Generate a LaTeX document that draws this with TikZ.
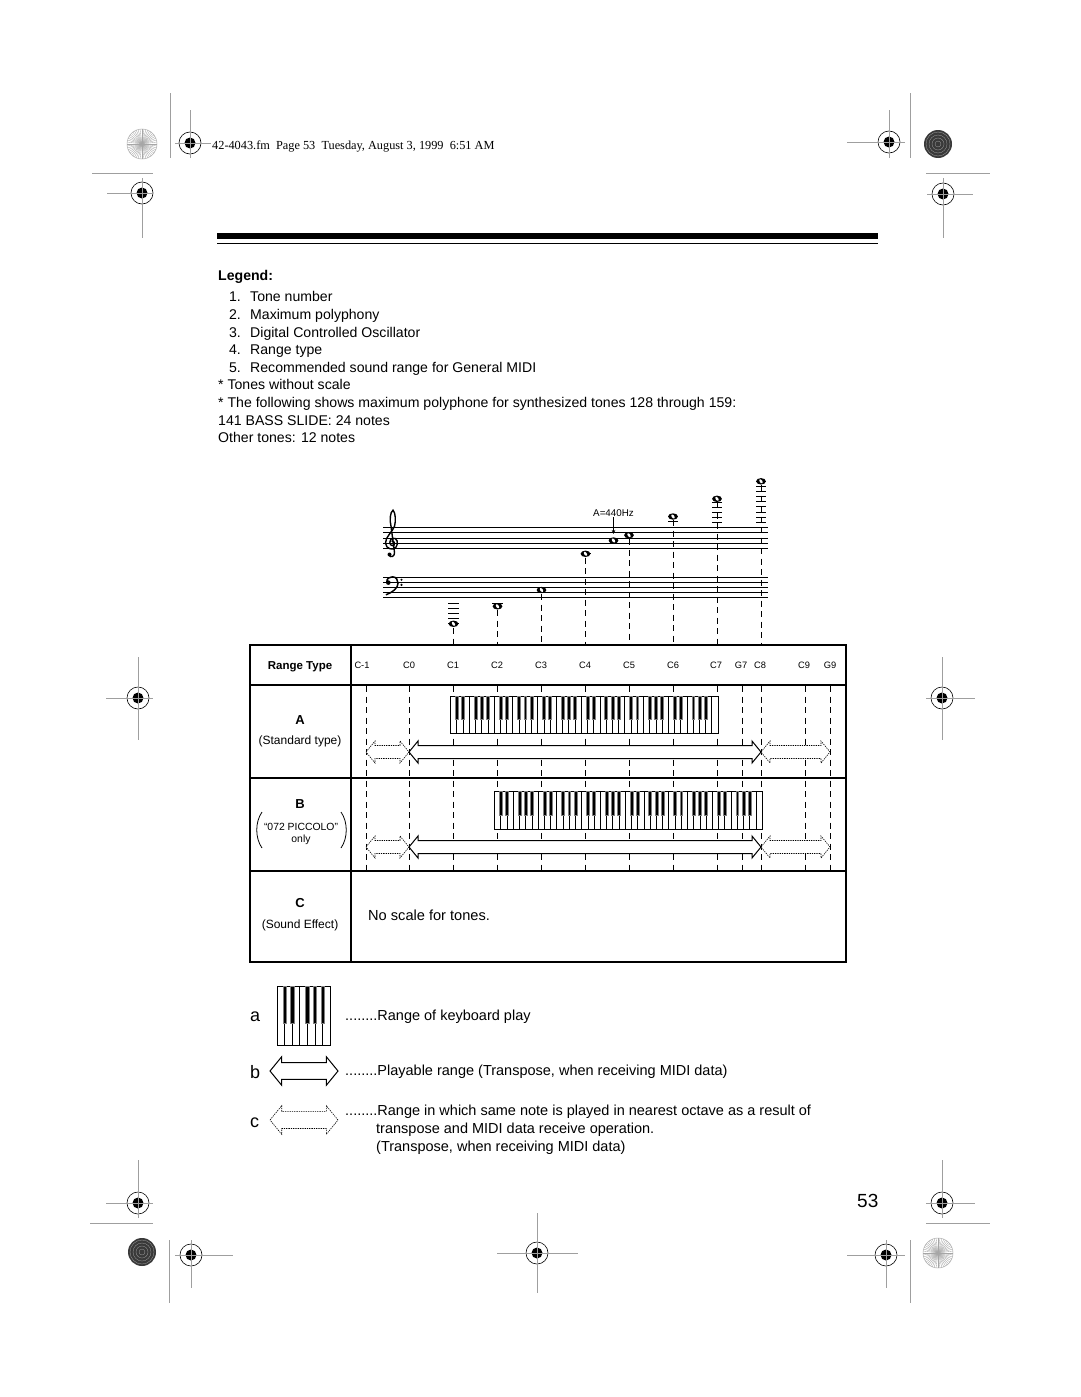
\documentclass[tikz,border=0pt]{standalone}
\usepackage{fontspec}
\setmainfont{Liberation Sans}
\newfontfamily\headfont{Liberation Serif}
\usetikzlibrary{arrows.meta}

\tikzset{
  regline/.style={gray!75, line width=0.8pt},
  guide/.style={dash pattern=on 6pt off 4.5pt, line width=0.6pt},
  staffline/.style={line width=0.8pt},
  ledger/.style={line width=0.7pt},
  txt/.style={anchor=base west, inner sep=0pt, font=\fontsize{14.1}{16}\selectfont},
  keytxt/.style={anchor=base west, inner sep=0pt, font=\fontsize{14.5}{16}\selectfont},
  collab/.style={anchor=base, inner sep=0pt, font=\fontsize{9.3}{10}\selectfont},
  typelab/.style={anchor=base, inner sep=0pt, font=\fontsize{12}{14}\selectfont},
  typebig/.style={anchor=base, inner sep=0pt, font=\bfseries\fontsize{13}{15}\selectfont},
  keyletter/.style={anchor=base west, inner sep=0pt, font=\fontsize{18}{20}\selectfont},
  fullarrow/.style={draw, fill=white, line width=1pt, line join=miter},
  partarrow/.style={draw, fill=white, line width=0.6pt, dash pattern=on 1.3pt off 1pt},
  whitekey/.style={draw, fill=white, line width=0.5pt},
  blackkey/.style={fill=black, draw=gray, line width=0.3pt},
}

% crop / registration marks
\newcommand{\regmark}[6]{%
  \draw[line width=0.6pt] (#1,#2) circle (11pt);
  \fill (#1,#2) circle (5.5pt);
  \draw[regline] (#3,#2) -- (#4,#2);
  \draw[regline] (#1,#5) -- (#1,#6);
}
\newcommand{\starburst}[2]{%
  \draw[gray!60, line width=0.5pt] (#1,#2) circle (15pt);
  \foreach \a in {0,7.5,...,352.5} \draw[gray!70, line width=0.35pt] (#1,#2) -- ++(\a:15);
}
\newcommand{\darkdisc}[2]{%
  \fill[gray!45!black] (#1,#2) circle (14pt);
  \foreach \r in {3,6,9,12} \draw[gray!75, line width=0.3pt] (#1,#2) circle (\r pt);
}
% whole note
\newcommand{\wnote}[2]{%
  \fill (#1,#2) ellipse [x radius=4.9pt, y radius=3.2pt];
  \fill[white, rotate around={35:(#1,#2)}] (#1,#2) ellipse [x radius=1.3pt, y radius=2.3pt];
}
% keyboard: x, y, white keys, key width, height
\newcommand{\keyboard}[5]{%
  \foreach \k in {1,...,#3} \draw[whitekey] ({#1+(\k-1)*#4},#2) rectangle ++(#4,#5);
  \foreach \k in {1,...,#3} {
    \pgfmathtruncatemacro\pos{mod(\k,7)}
    \ifnum\pos=3 \else\ifnum\pos=0 \else
      \ifnum\k<#3 \fill[blackkey] ({#1+\k*#4-0.23*#4},#2) rectangle ++(0.46*#4,0.63*#5);\fi
    \fi\fi
  }
}
% hollow double arrow: style, x1, x2, y, size
\newcommand{\rangearrow}[5]{%
  \path[#1] (#2,#4) -- ++(9*#5,-11*#5) -- ++(0,4.5*#5) -- (#3-9*#5,#4-6.5*#5)
    -- ++(0,-4.5*#5) -- (#3,#4) -- ++(-9*#5,11*#5) -- ++(0,-4.5*#5)
    -- (#2+9*#5,#4+6.5*#5) -- ++(0,4.5*#5) -- cycle;
}

\begin{document}
\begin{tikzpicture}[x=1pt, y=-1pt]
  \fill[white] (0,0) rectangle (1080,1397);
  \useasboundingbox (0,0) rectangle (1080,1397);

  % corner marks
  \starburst{142}{144}
  \draw[regline] (170,93) -- (170,158);
  \regmark{190}{143}{175}{211}{110}{158}
  \draw[regline] (92,173) -- (153,173);
  \regmark{142}{193}{107}{153}{178}{238}
  \regmark{889}{142}{847}{905}{110}{158}
  \draw[regline] (910,93) -- (910,158);
  \darkdisc{938}{144}
  \draw[regline] (926,173) -- (990,173);
  \regmark{943}{194}{927}{973}{178}{238}
  \regmark{138}{698}{106}{153}{657}{740}
  \regmark{942}{698}{926}{975}{657}{740}
  \regmark{138}{1203}{106}{153}{1160}{1218}
  \draw[regline] (90,1223) -- (153,1223);
  \darkdisc{142}{1252}
  \draw[regline] (169,1240) -- (169,1303);
  \regmark{191}{1255}{175}{233}{1240}{1288}
  \regmark{537}{1253}{497}{578}{1213}{1293}
  \regmark{942}{1203}{926}{975}{1160}{1218}
  \draw[regline] (926,1223) -- (990,1223);
  \starburst{938}{1253}
  \draw[regline] (910,1240) -- (910,1303);
  \regmark{886}{1255}{847}{905}{1240}{1288}

  \node[anchor=base west, inner sep=0pt, font=\headfont\fontsize{12.3}{14}\selectfont] (pghead) at (212,149) {42-4043.fm\ \ Page 53\ \ Tuesday, August 3, 1999\ \ 6:51 AM};

  % double rule
  \fill (217,233) rectangle (878,239);
  \draw[line width=1.5pt] (217,243.5) -- (878,243.5);

  % legend
  \node[txt, font=\bfseries\fontsize{14.1}{16}\selectfont] (legtitle) at (218,280) {Legend:};
  \node[txt, anchor=base east] (n1) at (241,301) {1.};
  \node[txt] (t1) at (250,301) {Tone number};
  \node[txt, anchor=base east] (n2) at (241,319) {2.};
  \node[txt] (t2) at (250,319) {Maximum polyphony};
  \node[txt, anchor=base east] (n3) at (241,337) {3.};
  \node[txt] (t3) at (250,337) {Digital Controlled Oscillator};
  \node[txt, anchor=base east] (n4) at (241,354) {4.};
  \node[txt] (t4) at (250,354) {Range type};
  \node[txt, anchor=base east] (n5) at (241,372) {5.};
  \node[txt] (t5) at (250,372) {Recommended sound range for General MIDI};
  \node[txt] (noscale) at (218,389) {* Tones without scale};
  \node[txt] (poly) at (218,407) {* The following shows maximum polyphone for synthesized tones 128 through 159:};
  \node[txt] (bass) at (218,425) {141 BASS SLIDE: 24 notes};
  \node[txt] (other) at (218,442) {Other tones: 12 notes};

  % staves
  \foreach \y in {527.3,532.6,537.9,543.2,548.5} \draw[staffline] (383,\y) -- (768,\y);
  \foreach \y in {577,582.2,587.4,592.6,597.8} \draw[staffline] (383,\y) -- (768,\y);
  % treble clef
  \begin{scope}[shift={(392,543.2)}, line width=1.4pt, line cap=round]
    \draw (0,-2) .. controls (3,-2.5) and (3.5,2.5) .. (0.5,2.5)
      .. controls (-3,2.5) and (-3,-4) .. (0.5,-5)
      .. controls (5,-6) and (7,0) .. (4,4)
      .. controls (1,7.5) and (-6,6) .. (-6.5,0)
      .. controls (-7,-6) and (1,-12) .. (2.5,-17)
      .. controls (4,-22) and (3.5,-31) .. (1,-33)
      .. controls (-2,-31) and (-2.5,-23) .. (-1,-17)
      -- (2.5,9)
      .. controls (3,13) and (-1,15) .. (-3,12);
    \fill (-2.5,11.3) circle (2pt);
  \end{scope}
  % bass clef
  \begin{scope}[shift={(386.5,582.3)}]
    \fill (1.8,0.3) circle (2.3pt);
    \draw[line width=1.5pt] (0.3,0) .. controls (0,-4) and (3,-5.5) .. (6,-5.5)
      .. controls (10,-5.5) and (11.5,-2) .. (11.5,1) .. controls (11.5,6) and (6,10) .. (-0.5,12.5);
    \fill (15,-2.6) circle (1.2pt) (15,2.6) circle (1.2pt);
  \end{scope}

  % ledger lines
  \foreach \y in {603,608.2,613.4,618.6,623.8} \draw[ledger] (448,\y) -- (459,\y);
  \draw[ledger] (492,603) -- (503,603);
  \draw[ledger] (580.5,553.8) -- (590.5,553.8);
  \foreach \y in {521.8,516.5} \draw[ledger] (668,\y) -- (678,\y);
  \foreach \y in {522,517,512,507,502} \draw[ledger] (712,\y) -- (722,\y);
  \foreach \y in {522.1,517,511.9,506.8,501.7,496.6,491.5,486.4,481.3} \draw[ledger] (756,\y) -- (766,\y);

  % notes
  \wnote{453.5}{623.8}
  \wnote{497.5}{606.3}
  \wnote{541.5}{590}
  \wnote{585.5}{553.8}
  \wnote{613.5}{540.5}
  \wnote{629}{535.2}
  \wnote{673}{516.5}
  \wnote{717}{498.8}
  \wnote{761}{481.3}
  \coordinate (atop) at (613.5,534);
  \node[inner sep=0.5pt, font=\fontsize{9.8}{11}\selectfont] (a440) at (613.5,513) {A=440Hz};
  \draw[-{Stealth[length=4pt,width=3.5pt]}, line width=0.6pt] (a440) -- (atop);

  % guide lines down to the table
  \draw[guide] (453.5,628) -- (453.5,645);
  \draw[guide] (497.5,610) -- (497.5,645);
  \draw[guide] (541.5,594) -- (541.5,645);
  \draw[guide] (585.5,557.5) -- (585.5,645);
  \draw[guide] (629,539) -- (629,645);
  \draw[guide] (673,520) -- (673,645);
  \draw[guide] (717,502) -- (717,645);
  \draw[guide] (761,485) -- (761,645);

  % range table
  \foreach \x in {366,409,453,497,541,585,629,673,717,742,761,805,830} \draw[guide] (\x,686) -- (\x,870);
  \draw[line width=2.2pt] (250,645) rectangle (846,962);
  \draw[line width=2pt] (250,685) -- (846,685);
  \draw[line width=2.4pt] (351,645) -- (351,962);
  \draw[line width=1.4pt] (250,778) -- (846,778) (250,871) -- (846,871);

  \node[typelab, font=\bfseries\fontsize{11.5}{13}\selectfont] (rtype) at (300,669.5) {Range Type};
  \foreach \x/\lab in {362/C-1,409/C0,453/C1,497/C2,541/C3,585/C4,629/C5,673/C6,716/C7,741/G7,760/C8,804/C9,830/G9}
    \node[collab, name=col\x] at (\x,668.5) {\lab};

  % row A
  \node[typebig] (rowA) at (300,724.5) {A};
  \node[typelab] (stdtype) at (300,744) {(Standard type)};
  \keyboard{450.5}{696}{43}{6.22}{37}
  \rangearrow{partarrow}{366}{409}{752}{1}
  \rangearrow{partarrow}{761}{830}{752}{1}
  \rangearrow{fullarrow}{409}{761}{752}{1}

  % row B
  \node[typebig] (rowB) at (300,808.5) {B};
  \node[anchor=base, inner sep=0pt, font=\fontsize{10.4}{12}\selectfont] (picc) at (301,830) {“072 PICCOLO”};
  \node[anchor=base, inner sep=0pt, font=\fontsize{10.4}{12}\selectfont] (only) at (301,842.5) {only};
  \draw[line width=0.8pt] (262,812) .. controls (255,822) and (255,838) .. (262,848);
  \draw[line width=0.8pt] (341,812) .. controls (348,822) and (348,838) .. (341,848);
  \keyboard{494.5}{791}{43}{6.22}{38}
  \rangearrow{partarrow}{366}{409}{847}{1}
  \rangearrow{partarrow}{761}{830}{847}{1}
  \rangearrow{fullarrow}{409}{761}{847}{1}

  % row C
  \node[typebig] (rowC) at (300,907.5) {C};
  \node[typelab] (sfx) at (300,928) {(Sound Effect)};
  \node[anchor=base west, inner sep=0pt, font=\fontsize{14.6}{16}\selectfont] (noscl) at (368,920) {No scale for tones.};

  % key to symbols
  \node[keyletter] (ka) at (250,1021) {a};
  \keyboard{277}{986}{7}{7.57}{59}
  \node[keytxt] (kat) at (345,1020) {........Range of keyboard play};
  \node[keyletter] (kb) at (250,1078) {b};
  \rangearrow{fullarrow}{270}{338}{1071}{1.3}
  \node[keytxt] (kbt) at (345,1075) {........Playable range (Transpose, when receiving MIDI data)};
  \node[keyletter] (kc) at (250,1127) {c};
  \rangearrow{partarrow}{270}{338}{1120}{1.3}
  \node[keytxt] (kct1) at (345,1115) {........Range in which same note is played in nearest octave as a result of};
  \node[keytxt] (kct2) at (376,1133) {transpose and MIDI data receive operation.};
  \node[keytxt] (kct3) at (376,1151) {(Transpose, when receiving MIDI data)};

  \node[anchor=base west, inner sep=0pt, font=\fontsize{19}{21}\selectfont] (pgnum) at (857,1207) {53};
\end{tikzpicture}
\end{document}
